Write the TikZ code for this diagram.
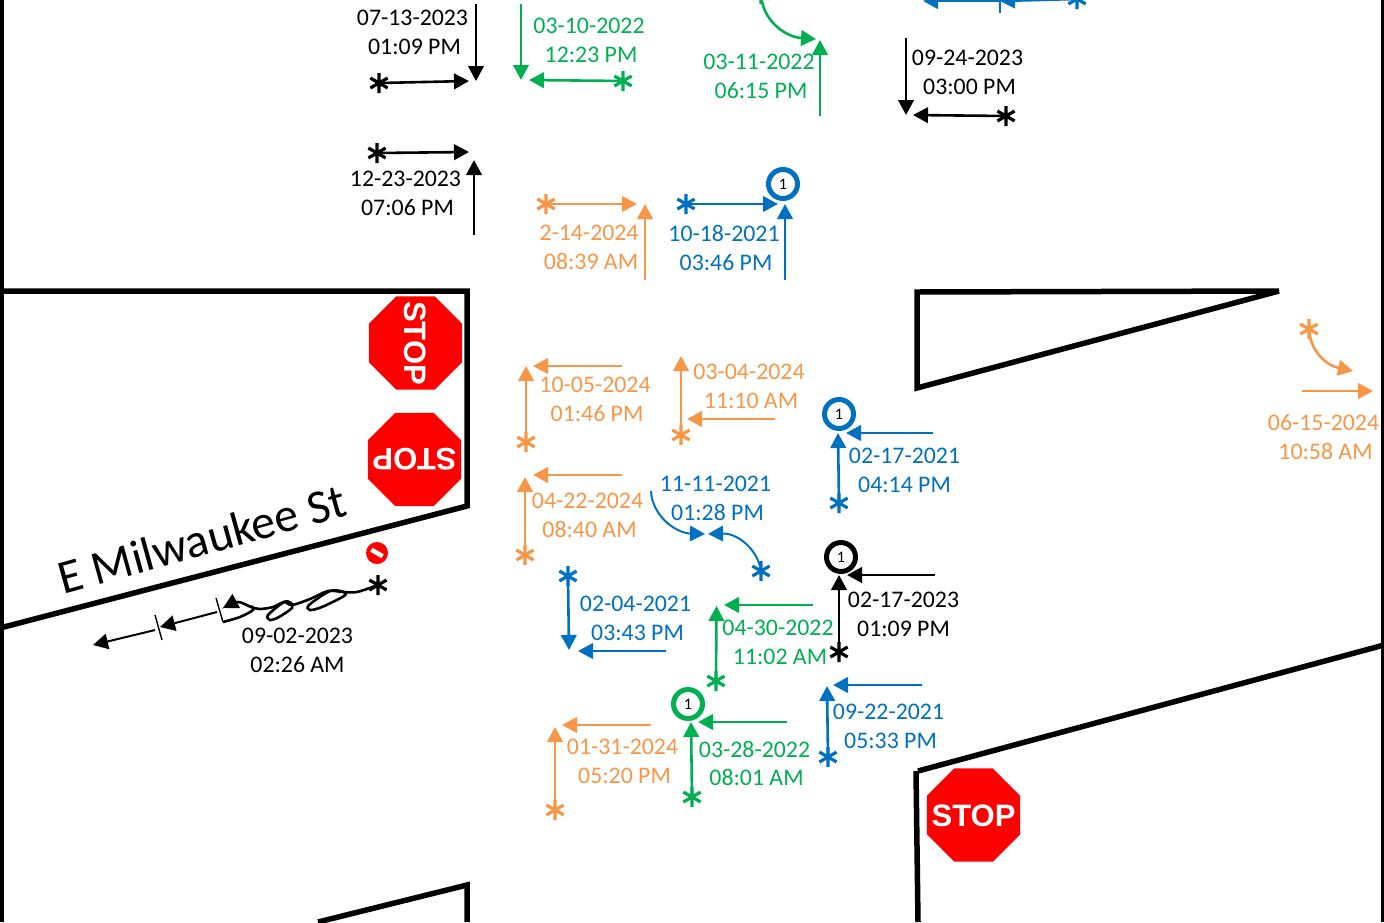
\documentclass[tikz,border=0pt]{standalone}
\usepackage{xcolor}
\usepackage{fontspec}
\setmainfont{Carlito}
\newfontfamily\stopfont{Liberation Sans}
\usetikzlibrary{shapes.geometric, arrows.meta, positioning}
\definecolor{crashorange}{HTML}{F79646}
\definecolor{crashgreen}{HTML}{00B050}
\definecolor{crashblue}{HTML}{0070C0}
\definecolor{stopred}{HTML}{FF0000}
\newcommand{\stopword}{\smash{\makebox[0pt]{\raisebox{-11pt}{STOP}}}}
\newcommand{\stamp}[2]{#1\\\hspace*{4pt}#2}
\tikzstyle{road} = [line width=5.5pt, black]
\tikzstyle{datelabel} = [
    inner sep=0pt, align=center, font=\fontsize{23.8}{28.8}\selectfont
]
\tikzstyle{arrow} = [-{Triangle[length=15pt,width=15.5pt]}, line width=2.6pt]
\tikzstyle{hitline} = [line width=2.6pt, black]
\tikzstyle{tick} = [line width=1.4pt]
\tikzstyle{stopsign} = [
    regular polygon, regular polygon sides=8, fill=stopred, text=white,
    inner sep=0pt, minimum size=101pt,
    font=\stopfont\bfseries\fontsize{31}{31}\selectfont
]
\tikzstyle{severity} = [
    circle, draw, line width=5pt, inner sep=0pt, minimum size=29pt,
    text=black, font=\fontsize{16}{16}\selectfont
]
\tikzset{crash/.style={
    circle, inner sep=0pt, minimum size=21pt,
    path picture={
        \draw[#1, line width=3.2pt] (path picture bounding box.center)
            +(90:10pt) -- +(270:10pt)
            +(30:10pt) -- +(210:10pt)
            +(150:10pt) -- +(330:10pt);
    }
}}
\begin{document}
\begin{tikzpicture}[x=1pt, y=-1pt]
        \useasboundingbox (0,0) rectangle (1384,922);

        % Frame
        \draw[line width=4pt] (2,0) -- (2,922);
        \draw[line width=3pt] (1382.5,0) -- (1382.5,922);

        % Curbs
        \draw[road] (0,291) -- (467,291) -- (467,506) -- (0,628);
        \draw[road] (1279,291) -- (917,292) -- (917,388) -- (1279,291);
        \draw[road] (1384,645) -- (918,771);
        \draw[road] (916,771) -- (918,922);
        \draw[road] (318,922) -- (467,885) -- (467,922);

        % Street name
        \node[inner sep=0pt, rotate=15.5, font=\fontsize{48}{48}\selectfont]
            (street) at (202,539) {E Milwaukee St};

        % Stop signs
        \node[stopsign, rotate=-90] (stopa) at (415.5,343) {\stopword};
        \node[stopsign, rotate=180] (stopb) at (414.5,459.5) {\stopword};
        \node[stopsign] (stopc) at (973.5,815) {\stopword};

        % Black crashes
        \node[datelabel] (l0713) at (412.5,32) {\stamp{07-13-2023}{01:09 PM}};
        \node[crash=black] (a0713) at (379,83) {};
        \coordinate (s0713) at (476,4);
        \coordinate (e0713) at (476,81);
        \coordinate (f0713) at (469,81);
        \draw[arrow] (s0713) -- (e0713);
        \draw[arrow] (a0713.center) -- (f0713);

        \node[datelabel] (l1223) at (405.5,193) {\stamp{12-23-2023}{07:06 PM}};
        \node[crash=black] (a1223) at (377,153) {};
        \coordinate (f1223) at (469,152);
        \coordinate (s1223) at (474,235);
        \coordinate (e1223) at (474,160);
        \draw[arrow] (a1223.center) -- (f1223);
        \draw[arrow] (s1223) -- (e1223);

        \node[datelabel] (l0924) at (967.5,72) {\stamp{09-24-2023}{03:00 PM}};
        \node[crash=black] (a0924) at (1006,116) {};
        \coordinate (s0924) at (906,38);
        \coordinate (e0924) at (906,115);
        \coordinate (f0924) at (913,115);
        \draw[arrow] (s0924) -- (e0924);
        \draw[arrow] (a0924.center) -- (f0924);

        \node[datelabel] (l0217b) at (903.5,614) {02-17-2023\\01:09 PM};
        \node[severity] (c0217b) at (841,557) {1};
        \node[crash=black] (a0217b) at (839,652) {};
        \coordinate (s0217b) at (935,575);
        \coordinate (e0217b) at (847,575);
        \coordinate (f0217b) at (839,575);
        \draw[arrow] (s0217b) -- (e0217b);
        \draw[arrow] (a0217b.center) -- (f0217b);

        % Hit and run
        \node[datelabel] (l0902) at (297.5,650) {09-02-2023\\02:26 AM};
        \node[crash=black] (a0902) at (378,585) {};
        \node[circle, fill=stopred, inner sep=0pt, minimum size=22pt]
            (noentry) at (377,553) {};
        \node[rectangle, fill=white, rotate=-30, inner sep=0pt,
              minimum width=13pt, minimum height=4.5pt]
            (noentrybar) at (noentry) {};
        \coordinate (e0902) at (223,608);
        \draw[hitline, -{Triangle[length=15pt,width=15.5pt]}] plot[smooth]
            coordinates {(a0902.center) (357,592) (343,592) (328,591) (310,599)
            (292,605) (284,602) (273,607) (260,609) (251,607) (238,602) (e0902)};
        \draw[hitline] plot[smooth cycle] coordinates
            {(344,592) (330,591) (309,605) (310,610) (322,607) (344,596)};
        \draw[hitline] plot[smooth cycle] coordinates
            {(291,603) (284,602) (268,615) (270,620) (279,617) (292,608)};
        \draw[hitline] plot[smooth] coordinates
            {(251,606) (253,610) (240,617) (223,622)};
        \coordinate (t1a) at (216,598);
        \coordinate (t1b) at (223,622);
        \coordinate (t2a) at (155,615);
        \coordinate (t2b) at (162,640);
        \coordinate (h1) at (217,612);
        \coordinate (h2) at (160,627);
        \coordinate (h3) at (155,630);
        \coordinate (h4) at (93,645);
        \draw[tick] (t1a) -- (t1b);
        \draw[tick] (t2a) -- (t2b);
        \draw[arrow, line width=2pt] (h1) -- (h2);
        \draw[arrow, line width=2pt] (h3) -- (h4);

        % Green crashes
        \node[datelabel, crashgreen] (l0310) at (589,40) {\stamp{03-10-2022}{12:23 PM}};
        \node[crash=crashgreen] (a0310) at (623,81) {};
        \coordinate (s0310) at (521,4);
        \coordinate (e0310) at (521,80);
        \coordinate (f0310) at (529,80);
        \draw[arrow, crashgreen] (s0310) -- (e0310);
        \draw[arrow, crashgreen] (a0310.center) -- (f0310);

        \node[datelabel, crashgreen] (l0311) at (759,76) {\stamp{03-11-2022}{06:15 PM}};
        \node[crash=crashgreen] (a0311) at (761,-6) {};
        \coordinate (s0311) at (820,116);
        \coordinate (e0311) at (820,40);
        \coordinate (f0311) at (816,39);
        \draw[arrow, crashgreen] (s0311) -- (e0311);
        \draw[arrow, crashgreen] (a0311.center)
            .. controls (762,20) and (785,37) .. (f0311);

        \node[datelabel, crashgreen] (l0430) at (778,642) {\stamp{04-30-2022}{11:02 AM}};
        \node[crash=crashgreen] (a0430) at (716,681) {};
        \coordinate (s0430) at (813,605);
        \coordinate (e0430) at (724,605);
        \coordinate (f0430) at (716.5,606);
        \draw[arrow, crashgreen] (s0430) -- (e0430);
        \draw[arrow, crashgreen] (a0430.center) -- (f0430);

        \node[datelabel, crashgreen] (l0328) at (754.5,763.5) {\stamp{03-28-2022}{08:01 AM}};
        \node[severity, draw=crashgreen] (c0328) at (688,704) {1};
        \node[crash=crashgreen] (a0328) at (692,797) {};
        \coordinate (s0328) at (787,722);
        \coordinate (e0328) at (698,722);
        \coordinate (f0328) at (691,722);
        \draw[arrow, crashgreen] (s0328) -- (e0328);
        \draw[arrow, crashgreen] (a0328.center) -- (f0328);

        % Orange crashes
        \node[datelabel, crashorange] (l0214) at (589,247) {\stamp{2-14-2024}{08:39 AM}};
        \node[crash=crashorange] (a0214) at (546,204) {};
        \coordinate (f0214) at (637,204);
        \coordinate (s0214) at (645,280);
        \coordinate (e0214) at (645,204);
        \draw[arrow, crashorange] (a0214.center) -- (f0214);
        \draw[arrow, crashorange] (s0214) -- (e0214);

        \node[datelabel, crashorange] (l1005) at (595,399) {\stamp{10-05-2024}{01:46 PM}};
        \node[crash=crashorange] (a1005) at (526,442) {};
        \coordinate (s1005) at (622,366);
        \coordinate (e1005) at (533,366);
        \coordinate (f1005) at (526,366);
        \draw[arrow, crashorange] (s1005) -- (e1005);
        \draw[arrow, crashorange] (a1005.center) -- (f1005);

        \node[datelabel, crashorange] (l0304) at (749,386) {\stamp{03-04-2024}{11:10 AM}};
        \node[crash=crashorange] (a0304) at (681,435) {};
        \coordinate (s0304) at (775,419);
        \coordinate (e0304) at (687,419);
        \coordinate (f0304) at (681,356);
        \draw[arrow, crashorange] (s0304) -- (e0304);
        \draw[arrow, crashorange] (a0304.center) -- (f0304);

        \node[datelabel, crashorange] (l0422) at (587.5,515) {\stamp{04-22-2024}{08:40 AM}};
        \node[crash=crashorange] (a0422) at (525,555) {};
        \coordinate (s0422) at (622,475);
        \coordinate (e0422) at (533,475);
        \coordinate (f0422) at (525,477);
        \draw[arrow, crashorange] (s0422) -- (e0422);
        \draw[arrow, crashorange] (a0422.center) -- (f0422);

        \node[datelabel, crashorange] (l0131) at (622.5,761) {\stamp{01-31-2024}{05:20 PM}};
        \node[crash=crashorange] (a0131) at (555,810) {};
        \coordinate (s0131) at (651,725);
        \coordinate (e0131) at (562,725);
        \coordinate (f0131) at (555,727);
        \draw[arrow, crashorange] (s0131) -- (e0131);
        \draw[arrow, crashorange] (a0131.center) -- (f0131);

        \node[datelabel, crashorange] (l0615) at (1323.5,437) {\stamp{06-15-2024}{10:58 AM}};
        \node[crash=crashorange] (a0615) at (1309,329) {};
        \coordinate (s0615) at (1302,391);
        \coordinate (e0615) at (1373,391);
        \coordinate (f0615) at (1353,371);
        \draw[arrow, crashorange] (s0615) -- (e0615);
        \draw[arrow, crashorange] (a0615.center)
            .. controls (1310,350) and (1325,365) .. (f0615);

        % Blue crashes
        \node[datelabel, crashblue] (l1018) at (724,248) {\stamp{10-18-2021}{03:46 PM}};
        \node[severity, draw=crashblue] (c1018) at (783,184) {1};
        \node[crash=crashblue] (a1018) at (686,204) {};
        \coordinate (f1018) at (778,204);
        \coordinate (s1018) at (785,280);
        \coordinate (e1018) at (785,204);
        \draw[arrow, crashblue] (a1018.center) -- (f1018);
        \draw[arrow, crashblue] (s1018) -- (e1018);

        \node[datelabel, crashblue] (l0217) at (904.5,470) {02-17-2021\\04:14 PM};
        \node[severity, draw=crashblue] (c0217) at (839,414) {1};
        \node[crash=crashblue] (a0217) at (839,503) {};
        \coordinate (s0217) at (933,433);
        \coordinate (e0217) at (846,433);
        \coordinate (f0217) at (838,433);
        \draw[arrow, crashblue] (s0217) -- (e0217);
        \draw[arrow, crashblue] (a0217.center) -- (f0217);

        \node[datelabel, crashblue] (l1111) at (715.5,498) {\stamp{11-11-2021}{01:28 PM}};
        \node[crash=crashblue] (a1111) at (761,571) {};
        \coordinate (s1111) at (651,491);
        \coordinate (e1111) at (705,534);
        \coordinate (f1111) at (708,534);
        \draw[arrow, crashblue, line width=2pt] (s1111)
            .. controls (652,515) and (675,533) .. (e1111);
        \draw[arrow, crashblue, line width=2pt] (a1111.center)
            .. controls (758,550) and (738,533) .. (f1111);

        \node[datelabel, crashblue] (l0204) at (635.5,618) {\stamp{02-04-2021}{03:43 PM}};
        \node[crash=crashblue] (a0204) at (568,576) {};
        \coordinate (s0204) at (666,651);
        \coordinate (e0204) at (578,651);
        \coordinate (f0204) at (569,650);
        \draw[arrow, crashblue] (s0204) -- (e0204);
        \draw[arrow, crashblue] (a0204.center) -- (f0204);

        \node[datelabel, crashblue] (l0922) at (888.5,726) {\stamp{09-22-2021}{05:33 PM}};
        \node[crash=crashblue] (a0922) at (828,757) {};
        \coordinate (s0922) at (922,685);
        \coordinate (e0922) at (833,685);
        \coordinate (f0922) at (827,686);
        \draw[arrow, crashblue] (s0922) -- (e0922);
        \draw[arrow, crashblue] (a0922.center) -- (f0922);

        % Blue crash cut off by the top edge
        \node[crash=crashblue] (atop) at (1077,-1) {};
        \coordinate (ttop) at (1000,1);
        \coordinate (etop) at (923,1);
        \coordinate (tka) at (1000,-4);
        \coordinate (tkb) at (1000,13);
        \draw[arrow, crashblue] (ttop) -- (etop);
        \draw[arrow, crashblue] (atop.center) -- (ttop);
        \draw[tick, crashblue] (tka) -- (tkb);
    \end{tikzpicture}
\end{document}
